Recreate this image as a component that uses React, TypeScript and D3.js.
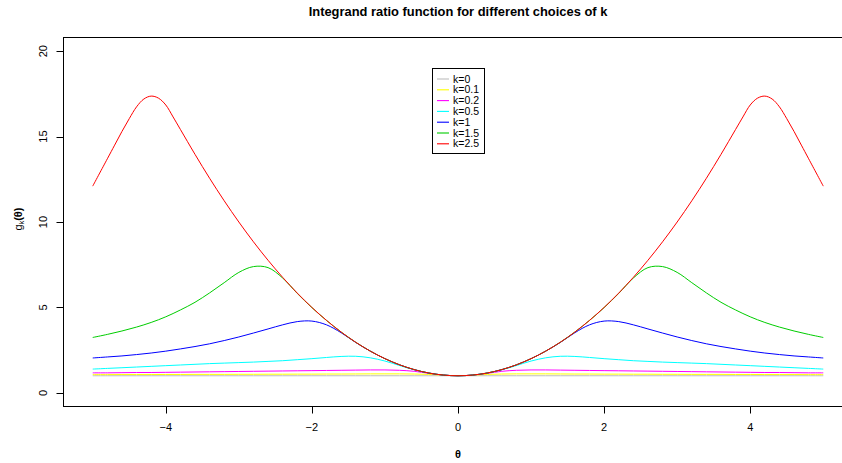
import React, { useEffect, useRef } from 'react';
import * as d3 from 'd3';

// theta grid and curve values
const thetas = [-5, -4.8, -4.6, -4.4, -4.2, -4, -3.8, -3.6, -3.4, -3.2, -3, -2.8, -2.6, -2.4, -2.2, -2, -1.8, -1.6, -1.4, -1.2, -1, -0.8, -0.6, -0.4, -0.2, 0,
  0.2, 0.4, 0.6, 0.8, 1, 1.2, 1.4, 1.6, 1.8, 2, 2.2, 2.4, 2.6, 2.8, 3, 3.2, 3.4, 3.6, 3.8, 4, 4.2, 4.4, 4.6, 4.8, 5];

// the k=2.5 curve is sampled more finely near its peaks
const thetasRed = [-5, -4.8, -4.7, -4.6, -4.5, -4.4, -4.3, -4.2, -4.1, -4, -3.9, -3.8, -3.6, -3.4, -3.2, -3, -2.8, -2.6, -2.4, -2.2, -2, -1.8, -1.6, -1.4, -1.2, -1, -0.8, -0.6, -0.4, -0.2, 0,
  0.2, 0.4, 0.6, 0.8, 1, 1.2, 1.4, 1.6, 1.8, 2, 2.2, 2.4, 2.6, 2.8, 3, 3.2, 3.4, 3.6, 3.8, 3.9, 4, 4.1, 4.2, 4.3, 4.4, 4.5, 4.6, 4.7, 4.8, 5];

const k0 = [1, 1, 1, 1, 1, 1, 1, 1, 1, 1, 1, 1, 1, 1, 1, 1, 1, 1, 1, 1, 1, 1, 1, 1, 1, 1,
  1, 1, 1, 1, 1, 1, 1, 1, 1, 1, 1, 1, 1, 1, 1, 1, 1, 1, 1, 1, 1, 1, 1, 1, 1];

const k01 = [1.065, 1.065, 1.07, 1.07, 1.07, 1.075, 1.075, 1.08, 1.08, 1.08, 1.085, 1.085, 1.09, 1.09, 1.095, 1.095, 1.1, 1.1, 1.105, 1.11, 1.11, 1.11, 1.1, 1.08, 1.035, 1,
  1.035, 1.08, 1.1, 1.11, 1.11, 1.11, 1.105, 1.1, 1.1, 1.095, 1.095, 1.09, 1.09, 1.085, 1.085, 1.08, 1.08, 1.08, 1.075, 1.075, 1.07, 1.07, 1.07, 1.065, 1.065];

const k02 = [1.17, 1.17, 1.18, 1.19, 1.19, 1.2, 1.21, 1.22, 1.23, 1.24, 1.25, 1.26, 1.27, 1.28, 1.29, 1.3, 1.31, 1.32, 1.33, 1.34, 1.34, 1.32, 1.26, 1.14, 1.04, 1,
  1.04, 1.14, 1.26, 1.32, 1.34, 1.34, 1.33, 1.32, 1.31, 1.3, 1.29, 1.28, 1.27, 1.26, 1.25, 1.24, 1.23, 1.22, 1.21, 1.2, 1.19, 1.19, 1.18, 1.17, 1.17];

const k05 = [1.39, 1.43, 1.47, 1.51, 1.55, 1.59, 1.63, 1.67, 1.71, 1.74, 1.77, 1.8, 1.84, 1.88, 1.94, 2.0, 2.07, 2.13, 2.14, 2.05, 1.86, 1.6, 1.35, 1.16, 1.04, 1,
  1.04, 1.16, 1.35, 1.6, 1.86, 2.05, 2.14, 2.13, 2.07, 2.0, 1.94, 1.88, 1.84, 1.8, 1.77, 1.74, 1.71, 1.67, 1.63, 1.59, 1.55, 1.51, 1.47, 1.43, 1.39];

const k1 = [2.04, 2.1, 2.16, 2.24, 2.33, 2.44, 2.57, 2.71, 2.87, 3.06, 3.27, 3.5, 3.74, 3.98, 4.17, 4.2, 3.98, 3.52, 2.95, 2.44, 2.0, 1.64, 1.36, 1.16, 1.04, 1,
  1.04, 1.16, 1.36, 1.64, 2.0, 2.44, 2.95, 3.52, 3.98, 4.2, 4.17, 3.98, 3.74, 3.5, 3.27, 3.06, 2.87, 2.71, 2.57, 2.44, 2.33, 2.24, 2.16, 2.1, 2.04];

const k15 = [3.24, 3.42, 3.62, 3.85, 4.12, 4.45, 4.85, 5.3, 5.85, 6.45, 7.05, 7.39, 7.33, 6.72, 5.82, 4.99, 4.24, 3.56, 2.96, 2.44, 2.0, 1.64, 1.36, 1.16, 1.04, 1,
  1.04, 1.16, 1.36, 1.64, 2.0, 2.44, 2.96, 3.56, 4.24, 4.99, 5.82, 6.72, 7.33, 7.39, 7.05, 6.45, 5.85, 5.3, 4.85, 4.45, 4.12, 3.85, 3.62, 3.42, 3.24];

const k25 = [12.1, 13.7, 14.5, 15.3, 16.05, 16.74, 17.2, 17.37, 17.25, 16.85, 16.15, 15.42, 13.96, 12.56, 11.24, 10.0, 8.84, 7.76, 6.76, 5.84, 5.0, 4.24, 3.56, 2.96, 2.44, 2.0, 1.64, 1.36, 1.16, 1.04, 1,
  1.04, 1.16, 1.36, 1.64, 2.0, 2.44, 2.96, 3.56, 4.24, 5.0, 5.84, 6.76, 7.76, 8.84, 10.0, 11.24, 12.56, 13.96, 15.42, 16.15, 16.85, 17.25, 17.37, 17.2, 16.74, 16.05, 15.3, 14.5, 13.7, 12.1];

const seriesNames = ['k=0', 'k=0.1', 'k=0.2', 'k=0.5', 'k=1', 'k=1.5', 'k=2.5'];
const seriesX = [thetas, thetas, thetas, thetas, thetas, thetas, thetasRed];
const seriesValues = [k0, k01, k02, k05, k1, k15, k25];
const seriesColors = ['#bebebe', '#ffff00', '#ff00ff', '#00ffff', '#0000ff', '#00cd00', '#ff0000'];

const xTicks = [-4, -2, 0, 2, 4];
const yTicks = [0, 5, 10, 15, 20];

const FONT = 'Liberation Sans, Arial, Helvetica, sans-serif';

function App() {
  const ref = useRef<SVGSVGElement>(null);

  useEffect(() => {
    const svg = d3.select(ref.current);
    svg.selectAll('*').remove();

    // R style 4% axis extension
    const x = d3.scaleLinear().domain([-5.4, 5.4]).range([63.5, 852.5]);
    const y = d3.scaleLinear().domain([-0.8, 20.8]).range([406.5, 37.5]);

    seriesValues.forEach((vals, i) => {
      const xs = seriesX[i];
      const line = d3.line<number>()
        .x((d, j) => x(xs[j]))
        .y(d => y(d))
        .curve(d3.curveCatmullRom.alpha(0.5));
      svg.append('path')
        .attr('d', line(vals))
        .attr('fill', 'none')
        .attr('stroke', seriesColors[i])
        .attr('stroke-width', 1);
    });

    // box
    svg.append('rect')
      .attr('x', 63.5).attr('y', 37.5)
      .attr('width', 789).attr('height', 369)
      .attr('fill', 'none').attr('stroke', '#000').attr('stroke-width', 1);

    // x axis
    const gx = svg.append('g');
    gx.selectAll('line').data(xTicks).enter().append('line')
      .attr('x1', d => Math.round(x(d)) + 0.5).attr('x2', d => Math.round(x(d)) + 0.5)
      .attr('y1', 406.5).attr('y2', 413.5)
      .attr('stroke', '#000');
    gx.selectAll('text').data(xTicks).enter().append('text')
      .attr('x', d => x(d)).attr('y', 431)
      .attr('text-anchor', 'middle')
      .attr('font-family', FONT).attr('font-size', 11)
      .text(d => (d < 0 ? '\u2212' + Math.abs(d) : String(d)));

    // y axis
    const gy = svg.append('g');
    gy.selectAll('line').data(yTicks).enter().append('line')
      .attr('x1', 56.5).attr('x2', 63.5)
      .attr('y1', d => Math.round(y(d)) + 0.5).attr('y2', d => Math.round(y(d)) + 0.5)
      .attr('stroke', '#000');
    gy.selectAll('text').data(yTicks).enter().append('text')
      .attr('transform', d => `translate(47,${y(d)}) rotate(-90)`)
      .attr('text-anchor', 'middle')
      .attr('font-family', FONT).attr('font-size', 11)
      .text(d => String(d));

    // title and axis labels
    svg.append('text')
      .attr('x', 458).attr('y', 16)
      .attr('text-anchor', 'middle')
      .attr('font-family', FONT).attr('font-size', 12.9).attr('font-weight', 'bold')
      .text('Integrand ratio function for different choices of k');

    svg.append('text')
      .attr('x', 458).attr('y', 458)
      .attr('text-anchor', 'middle')
      .attr('font-family', FONT).attr('font-size', 11).attr('font-weight', 'bold')
      .text('\u03b8');

    const yl = svg.append('text')
      .attr('transform', 'translate(22,219) rotate(-90)')
      .attr('text-anchor', 'middle')
      .attr('font-family', FONT).attr('font-size', 11);
    yl.append('tspan').text('g');
    yl.append('tspan').attr('font-size', 7).attr('dy', 2).text('k');
    yl.append('tspan').attr('dy', -2).attr('font-weight', 'bold').text('(\u03b8)');

    // legend
    const lg = svg.append('g');
    lg.append('rect')
      .attr('x', 432.5).attr('y', 68.5)
      .attr('width', 52).attr('height', 85)
      .attr('fill', '#fff').attr('stroke', '#000');
    seriesNames.forEach((name, i) => {
      const cy = 79 + i * 10.8;
      lg.append('line')
        .attr('x1', 437).attr('x2', 449)
        .attr('y1', cy).attr('y2', cy)
        .attr('stroke', seriesColors[i]).attr('stroke-width', 1.1);
      lg.append('text')
        .attr('x', 453).attr('y', cy + 3.6)
        .attr('font-family', FONT).attr('font-size', 10.5)
        .text(name);
    });
  }, []);

  return (
    <svg ref={ref} width={842} height={463}
      style={{ position: 'absolute', left: 0, top: 0, background: '#fff' }} />
  );
}

export default App;
